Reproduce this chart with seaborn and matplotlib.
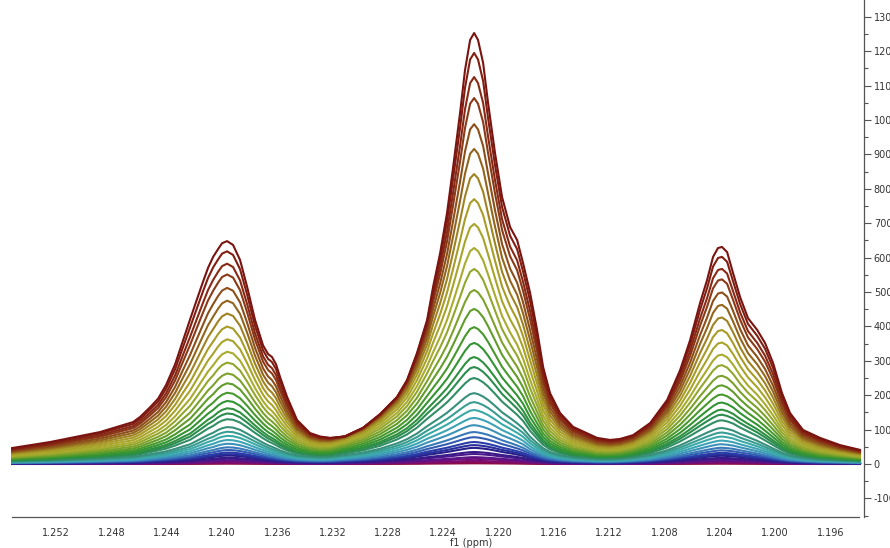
import numpy as np
import matplotlib
matplotlib.use("Agg")
import matplotlib.pyplot as plt
from matplotlib.ticker import FixedLocator
from matplotlib.colors import LinearSegmentedColormap
import seaborn as sns
import pandas as pd

sns.set_style("white")
plt.rcParams['font.family'] = ['DejaVu Sans']

# chemical shift grid (ppm) the two traced spectra were read on
profile_ppm = [1.25526, 1.25243, 1.24882, 1.24643, 1.24592, 1.24520, 1.24462, 1.24404,
               1.24339, 1.24281, 1.24231, 1.24180, 1.24137, 1.24101, 1.24064, 1.24028,
               1.23999, 1.23963, 1.23920, 1.23869, 1.23818, 1.23761, 1.23703, 1.23667,
               1.23638, 1.23609, 1.23580, 1.23529, 1.23457, 1.23363, 1.23290, 1.23218,
               1.23110, 1.22979, 1.22856, 1.22733, 1.22661, 1.22589, 1.22516, 1.22473,
               1.22422, 1.22372, 1.22328, 1.22278, 1.22242, 1.22205, 1.22176, 1.22148,
               1.22111, 1.22075, 1.22025, 1.21974, 1.21916, 1.21865, 1.21822, 1.21771,
               1.21721, 1.21677, 1.21627, 1.21554, 1.21460, 1.21287, 1.21193, 1.21120,
               1.21026, 1.20903, 1.20780, 1.20686, 1.20614, 1.20542, 1.20491, 1.20448,
               1.20412, 1.20383, 1.20346, 1.20303, 1.20252, 1.20195, 1.20129, 1.20072,
               1.20014, 1.19949, 1.19891, 1.19797, 1.19674, 1.19529, 1.19384]
# outermost spectrum (central peak 1253)
profile_top = [46, 64, 93, 122, 137, 165, 190, 230,
               290, 360, 420, 480, 530, 570, 602, 625,
               642, 648, 637, 593, 515, 419, 345, 320,
               311, 290, 253, 195, 128, 90, 80, 76,
               80, 105, 145, 195, 244, 323, 419, 515,
               613, 730, 863, 1020, 1145, 1233, 1253, 1233,
               1166, 1049, 904, 776, 689, 651, 584, 497,
               390, 282, 206, 148, 108, 76, 70, 73,
               84, 119, 186, 273, 360, 468, 535, 602,
               628, 631, 616, 555, 485, 424, 390, 352,
               294, 206, 148, 99, 76, 55, 41]
# a low spectrum (central peak 157), broader and without the shoulder
profile_low = [6, 8, 12, 16, 18, 22, 25, 28,
               33, 38, 42, 50, 57, 63, 68, 75,
               79, 82, 81, 76, 68, 58, 48, 42,
               38, 34, 30, 25, 20, 17, 16, 17,
               22, 28, 37, 50, 60, 73, 90, 98,
               108, 118, 128, 140, 148, 155, 157, 155,
               150, 144, 132, 118, 105, 92, 80, 60,
               46, 35, 27, 20, 15, 11, 11, 12,
               15, 21, 32, 43, 53, 63, 70, 75,
               79, 80, 78, 75, 68, 61, 52, 43,
               34, 25, 19, 14, 10, 8, 6]

# height of the central peak for each spectrum, top to bottom
peak_heights = [1253, 1195, 1125, 1064, 988, 916, 843, 770, 698, 628,
                567, 506, 451, 398, 352, 311, 282, 250, 206, 180,
                157, 134, 113, 93, 78, 64, 55, 47, 35, 29,
                20, 15, 9, 5, 2]

xtick_values = [1.252, 1.248, 1.244, 1.240, 1.236, 1.232, 1.228, 1.224,
                1.220, 1.216, 1.212, 1.208, 1.204, 1.200, 1.196]
xtick_labels = ["1.252", "1.248", "1.244", "1.240", "1.236", "1.232", "1.228", "1.224",
                "1.220", "1.216", "1.212", "1.208", "1.204", "1.200", "1.196"]
ytick_values = [-100, 0, 100, 200, 300, 400, 500, 600, 700, 800, 900, 1000, 1100, 1200, 1300]
ytick_labels = ["-100", "0", "100", "200", "300", "400", "500", "600", "700", "800",
                "900", "1000", "1100", "1200", "1300"]

# long-form table: each spectrum takes the traced shape nearest to its size
top_n = np.array(profile_top) / max(profile_top)
low_n = np.array(profile_low) / max(profile_low)
rows = []
for k, h in enumerate(peak_heights):
    w = h / max(peak_heights)
    shape = w * top_n + (1 - w) * low_n
    for p, v in zip(profile_ppm, shape):
        rows.append({"ppm": p, "intensity": v * h, "trace": k})
df = pd.DataFrame(rows)

anchors = ["#7a1410", "#8a2c16", "#8e5a1a", "#a89a26", "#a8ac2e", "#74a02a",
           "#35962e", "#2a8c4c", "#38907e", "#3cb0b0", "#3c86bc", "#2a3eaa",
           "#281c86", "#52168c", "#7a0c76", "#8c0a3c"]
cmap = LinearSegmentedColormap.from_list("spec", anchors)
colors = [cmap(i / (len(peak_heights) - 1)) for i in range(len(peak_heights))]

fig = plt.figure(figsize=(8.9, 5.48), dpi=100)
ax = fig.add_axes([11 / 890, 31 / 548, 853 / 890, 517 / 548])

order = list(range(len(peak_heights)))[::-1]
sns.lineplot(data=df, x="ppm", y="intensity", hue="trace", hue_order=order,
             palette=dict(zip(range(len(peak_heights)), colors)),
             estimator=None, sort=False, legend=False, linewidth=1.5, ax=ax)

ax.set_xlim(1.25526, 1.19356)
ax.set_ylim(-154, 1349)

for side in ["left", "top"]:
    ax.spines[side].set_visible(False)
ax.spines["bottom"].set_bounds(1.25518, 1.19394)
for side in ["bottom", "right"]:
    ax.spines[side].set_color("#555555")
    ax.spines[side].set_linewidth(0.9)

ax.xaxis.set_major_locator(FixedLocator(xtick_values))
ax.set_xticklabels(xtick_labels)
ax.xaxis.set_minor_locator(FixedLocator(np.round(np.arange(1.194, 1.2555, 0.001), 3)))
ax.yaxis.tick_right()
ax.yaxis.set_major_locator(FixedLocator(ytick_values))
ax.set_yticklabels(ytick_labels)
ax.yaxis.set_minor_locator(FixedLocator(np.arange(-150, 1351, 50)))

ax.tick_params(axis="both", which="major", direction="out", length=5, width=0.8,
               color="#555555", labelsize=7, labelcolor="#333333", pad=3)
ax.tick_params(axis="both", which="minor", direction="out", length=3, width=0.8,
               color="#555555")
ax.tick_params(axis="y", which="both", left=False, right=True, labelleft=False,
               labelright=True, pad=2)

ax.set_xlabel("f1 (ppm)", fontsize=7, color="#333333")
ax.xaxis.set_label_coords(0.540, -0.041)
ax.set_ylabel("")

fig.savefig("out.png", dpi=100)
